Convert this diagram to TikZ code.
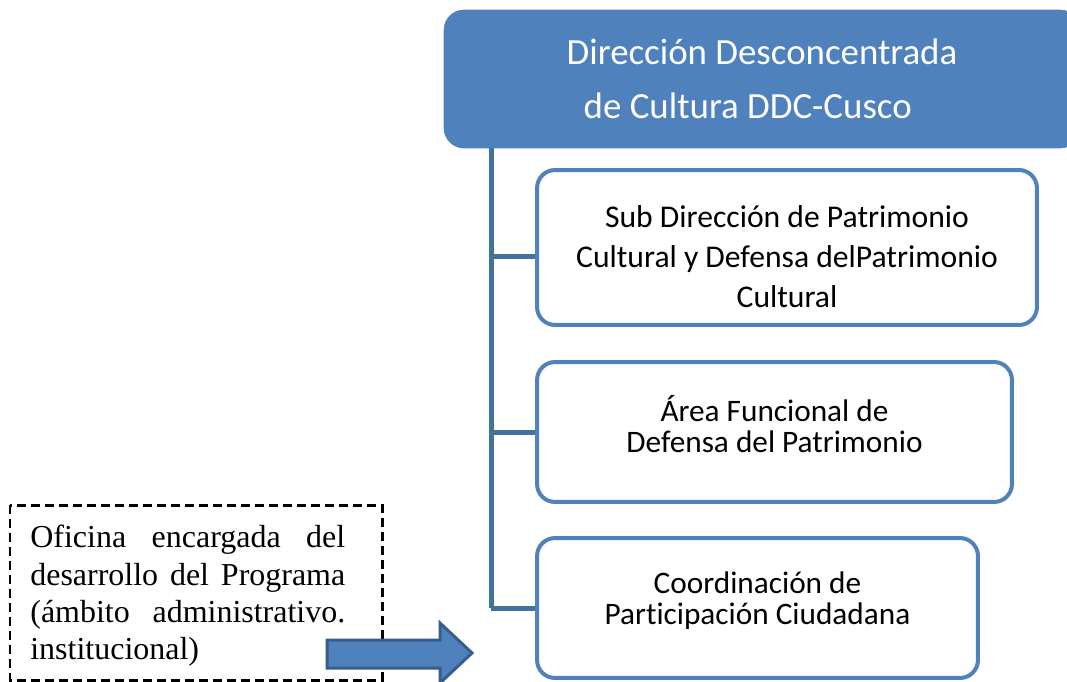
\documentclass[tikz,border=0pt]{standalone}
\usepackage{fontspec}
\setmainfont{Carlito}[Ligatures=NoCommon]
\newfontfamily\timesfont{Liberation Serif}
\usetikzlibrary{calc}
\definecolor{ddcblue}{HTML}{4F81BD}
\definecolor{ddcdark}{HTML}{41719C}
\definecolor{ddcedge}{HTML}{385D8A}

\begin{document}
\begin{tikzpicture}[x=0.02cm,y=-0.02cm,
    head/.style={fill=ddcblue,draw=ddcblue,rounded corners=0.4cm,text=white,
      align=left,font=\fontsize{21}{31}\selectfont},
    unit/.style={draw=ddcblue,line width=0.08cm,fill=white,rounded corners=0.36cm},
    unittext/.style={align=center,inner sep=0,font=\fontsize{17.8}{17.8}\selectfont},
    trunk/.style={draw=ddcdark,line width=0.1cm},
    dashframe/.style={draw=black,dash pattern=on 0.18cm off 0.1cm,line width=0.06cm},
    blockarrow/.style={fill=ddcblue,draw=ddcedge,line width=0.06cm}]
  \useasboundingbox (0,0) rectangle (1067,682);

  \node[head,minimum width=12.72cm,minimum height=2.76cm] (ddc) at (762,79)
    {Dirección Desconcentrada\\\hspace*{0.34cm}de Cultura DDC-Cusco};

  \node[unit,minimum width=10cm,minimum height=3.1cm] (sub) at (787,247.5) {};
  \node[unittext,font=\fontsize{18}{22.7}\selectfont] (subtext)
    at ([yshift=-0.18cm]sub.center)
    {Sub Dirección de Patrimonio\\Cultural y Defensa delPatrimonio\\Cultural};
  \node[unit,minimum width=9.5cm,minimum height=2.8cm] (area) at (774.5,432) {};
  \node[unittext] (areatext) at ([yshift=0.16cm]area.center)
    {Área Funcional de\\Defensa del Patrimonio};
  \node[unit,minimum width=8.82cm,minimum height=2.8cm] (coord) at (757.5,608) {};
  \node[unittext] (coordtext) at ([yshift=0.14cm]coord.center)
    {Coordinación de\\Part\kern0pt icipación Ciudadana};

  % DDC -> units
  \coordinate (t) at (491,148);
  \draw[trunk] (t) -- (t |- coord.west);
  \draw[trunk] ([yshift=-0.18cm]sub.west -| t) -- ([yshift=-0.18cm]sub.west);
  \draw[trunk] (area.west -| t) -- (area.west);
  \draw[trunk] (coord.west -| t) -- (coord.west);

  % office box
  \draw[dashframe] (10,505) rectangle (382,680);
  \node[anchor=north west,inner sep=0,text width=6.3cm,align=justify,
    font=\timesfont\fontsize{18.2}{21.2}\selectfont] (office) at (30,525)
    {Oficina encargada del desarrollo del Programa (ámbito administrativo. institucional)};

  % office -> coordination
  \draw[blockarrow] (327,640) -- (440,640) -- (440,623) -- (472,653)
    -- (440,683) -- (440,668) -- (327,668) -- cycle;
\end{tikzpicture}
\end{document}
